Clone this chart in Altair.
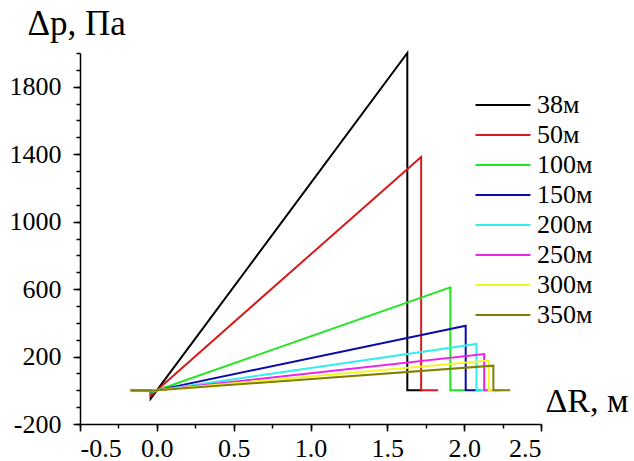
import altair as alt
import pandas as pd

# Series (distance from the source) and their line colours
series = ["38м", "50м", "100м", "150м", "200м", "250м", "300м", "350м"]
colors = ["#000000", "#d41c1c", "#22e622", "#0a0aaa", "#33eeee", "#ee22ee", "#f5f522", "#808000"]

# Pressure-wave profile of each series: flat lead-in, front dip, linear rise,
# shock drop back to zero, short flat tail
start_x = -0.17
front_x = -0.04
front_dp = [-50, -32, -13, -8, -6, -4, -3, -3]
peak_x = [1.63, 1.72, 1.91, 2.01, 2.08, 2.13, 2.16, 2.19]
peak_dp = [2000, 1384, 610, 383, 275, 215, 176, 146]
end_x = [1.73, 1.83, 2.01, 2.11, 2.18, 2.23, 2.26, 2.30]

# Axis tick values
x_major = [-0.5, 0.0, 0.5, 1.0, 1.5, 2.0, 2.5]
x_minor = [-0.5, -0.25, 0.0, 0.25, 0.5, 0.75, 1.0, 1.25, 1.5, 1.75, 2.0, 2.25, 2.5]
y_major = [-200, 200, 600, 1000, 1400, 1800]
y_minor = [-200, -100, 0, 100, 200, 300, 400, 500, 600, 700, 800, 900, 1000,
           1100, 1200, 1300, 1400, 1500, 1600, 1700, 1800, 1900, 2000]

rows = []
for i, name in enumerate(series):
    pts = [(start_x, 0), (front_x, 0), (front_x, front_dp[i]),
           (peak_x[i], peak_dp[i]), (peak_x[i], 0), (end_x[i], 0)]
    for k, (x, y) in enumerate(pts):
        rows.append({"series": name, "k": k, "dR": x, "dp": y})
df = pd.DataFrame(rows)

FONT = "Liberation Serif"
FS = 26
W, H = 461, 371

xs = alt.Scale(domain=[-0.5, 2.5], nice=False, zero=False)
ys = alt.Scale(domain=[-200, 2000], nice=False, zero=False)

x_fmt = "datum.value < 0 ? '-' + format(-datum.value, '.1f') : format(datum.value, '.1f')"
y_fmt = "datum.value < 0 ? '-' + format(-datum.value, 'd') : format(datum.value, 'd')"

# Minor ticks (no labels) on both axes
minor = alt.Chart(df).mark_line(opacity=0).encode(
    x=alt.X("dR:Q", scale=xs, axis=alt.Axis(
        orient="bottom", values=x_minor, labels=False, domain=False, grid=False,
        tickSize=4, tickWidth=1.5, tickColor="black", title=None)),
    y=alt.Y("dp:Q", scale=ys, axis=alt.Axis(
        orient="left", values=y_minor, labels=False, domain=False, grid=False,
        tickSize=4, tickWidth=1.5, tickColor="black", title=None)),
    detail="series:N",
    order=alt.Order("k:Q"),
)

# Legend line: a long horizontal stroke on a small symbol cell so rows stay compact
legend_line = "M-2.75,0L2.75,0"

lines = alt.Chart(df).mark_line(strokeWidth=2, clip=False).encode(
    x=alt.X("dR:Q", scale=xs, axis=alt.Axis(
        orient="bottom", values=x_major, labelExpr=x_fmt, grid=False,
        tickSize=7, tickWidth=1.5, tickColor="black",
        domainColor="black", domainWidth=1.5,
        labelFont=FONT, labelFontSize=FS, labelColor="black", labelPadding=4,
        title="ΔR, м", titleFont=FONT, titleFontSize=34, titleFontWeight="normal",
        titleColor="black", titleAlign="left", titleBaseline="alphabetic",
        titleAnchor="start", titleX=465, titleY=-13)),
    y=alt.Y("dp:Q", scale=ys, axis=alt.Axis(
        orient="left", values=y_major, labelExpr=y_fmt, grid=False,
        tickSize=7, tickWidth=1.5, tickColor="black",
        domainColor="black", domainWidth=1.5,
        labelFont=FONT, labelFontSize=FS, labelColor="black", labelPadding=12,
        title="Δp, Па", titleFont=FONT, titleFontSize=35, titleFontWeight="normal",
        titleColor="black", titleAngle=0, titleAlign="left", titleBaseline="alphabetic",
        titleAnchor="start", titleX=-53, titleY=-19)),
    color=alt.Color("series:N", scale=alt.Scale(domain=series, range=colors),
                    legend=alt.Legend(
                        orient="none", legendX=410, legendY=39, title=None,
                        symbolType=legend_line, symbolStrokeWidth=2, symbolSize=400,
                        labelFont=FONT, labelFontSize=FS, labelColor="black",
                        labelOffset=21, rowPadding=4, padding=0)),
    order=alt.Order("k:Q"),
)

chart = alt.layer(minor, lines).resolve_axis(x="independent", y="independent").properties(
    width=W, height=H,
    autosize=alt.AutoSizeParams(type="none"),
    padding={"left": 80, "top": 53, "right": 93, "bottom": 37},
    background="white",
).configure_view(stroke=None)

chart.save("out.html", embed_options={"renderer": "svg", "actions": False})
